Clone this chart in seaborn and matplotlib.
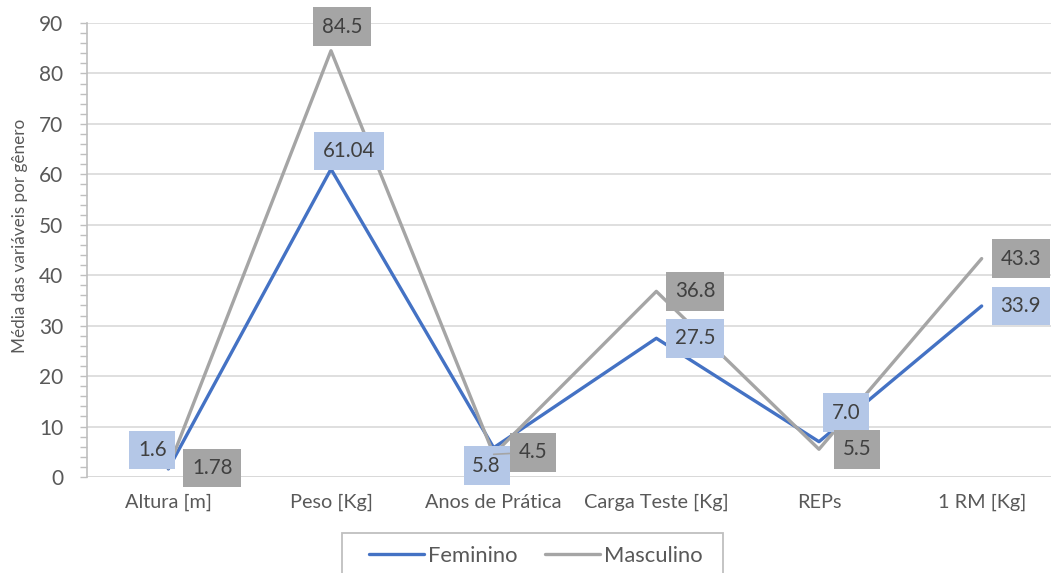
import matplotlib
matplotlib.use("Agg")
import matplotlib.pyplot as plt
from matplotlib.path import Path
from matplotlib.lines import Line2D
from matplotlib.patches import Rectangle
from matplotlib.ticker import MultipleLocator
import pandas as pd
import seaborn as sns

# ---- data -------------------------------------------------------------
categorias = ["Altura [m]", "Peso [Kg]", "Anos de Prática",
              "Carga Teste [Kg]", "REPs", "1 RM [Kg]"]
feminino = [1.6, 61.04, 5.8, 27.5, 7.0, 33.9]
masculino = [1.78, 84.5, 4.5, 36.8, 5.5, 43.3]
casas_fem = [1, 2, 1, 1, 1, 1]      # decimal places shown in each label
casas_masc = [2, 1, 1, 1, 1, 1]
series = ["Feminino", "Masculino"]
y_ticks = [0, 10, 20, 30, 40, 50, 60, 70, 80, 90]

# ---- styling ----------------------------------------------------------
cores = {"Feminino": "#4472C4", "Masculino": "#A5A5A5"}
cores_caixa = {"Feminino": "#B4C7E7", "Masculino": "#A5A5A5"}
texto = "#404040"
cinza_texto = "#595959"
grade = "#D9D9D9"

# label box centre offsets from each point, in pixels (x right, y up)
desloc_fem = [(-16, 19), (18, 18), (-7, -18), (39, 0), (27, 29), (39, 0)]
desloc_masc = [(44, 0), (11, 24), (39, 2), (39, 0), (38, 0), (39, 0)]
guia_masc = [False, False, True, False, False, False]

sns.set_theme(style="white")
plt.rcParams["font.family"] = ["Lato", "DejaVu Sans"]

df = pd.DataFrame({
    "pos": list(range(len(categorias))) * 2,
    "valor": feminino + masculino,
    "genero": ["Feminino"] * len(categorias) + ["Masculino"] * len(categorias),
})

W, H = 1051, 573
fig = plt.figure(figsize=(W / 100, H / 100), dpi=100)
ax = fig.add_axes([87 / W, 96 / H, 976 / W, 454 / H])

sns.lineplot(data=df, x="pos", y="valor", hue="genero", hue_order=series,
             palette=cores, linewidth=2.4, legend=False, ax=ax,
             errorbar=None, sort=False)

ax.set_xlim(-0.5, len(categorias) - 0.5)
ax.set_ylim(0, 90)
ax.set_xticks(range(len(categorias)))
ax.set_xticklabels(categorias)
ax.set_yticks(y_ticks)
ax.yaxis.set_minor_locator(MultipleLocator(2))
ax.set_xlabel("")
ax.set_ylabel("")

ax.grid(axis="y", color=grade, linewidth=1.2)
ax.set_axisbelow(True)
for s in ["top", "right", "bottom"]:
    ax.spines[s].set_visible(False)
ax.spines["left"].set_color("#BFBFBF")
ax.spines["left"].set_linewidth(1.2)
ax.axhline(0, color=grade, linewidth=1.4, zorder=1)

ax.tick_params(axis="y", which="both", direction="out", length=5,
               width=1.0, color="#BFBFBF", left=True)
ax.tick_params(axis="y", which="major", labelsize=15, labelcolor=cinza_texto, pad=12)
ax.tick_params(axis="x", length=0, labelsize=14.3, labelcolor=cinza_texto, pad=12)


def caixa_rotulo(x0, y0, width, height, mutation_size):
    px = 0.42 * mutation_size
    py = 0.45 * mutation_size
    verts = [(x0 - px, y0 - py), (x0 + width + px, y0 - py),
             (x0 + width + px, y0 + height + py), (x0 - px, y0 + height + py),
             (x0 - px, y0 - py)]
    return Path(verts, closed=True)


def rotular(valores, casas, desloc, serie, guias=None):
    for i, (v, c, (dx, dy)) in enumerate(zip(valores, casas, desloc)):
        arrow = None
        if guias is not None and guias[i]:
            arrow = dict(arrowstyle="-", color=cores[serie], lw=1.2,
                         shrinkA=0, shrinkB=0)
        ax.annotate(f"{v:.{c}f}", xy=(i, v), xytext=(dx, dy),
                    textcoords="offset pixels", ha="center", va="center",
                    fontsize=14.8, color=texto, zorder=5,
                    bbox=dict(boxstyle=caixa_rotulo, fc=cores_caixa[serie],
                              ec="none"),
                    arrowprops=arrow, annotation_clip=False)


rotular(feminino, casas_fem, desloc_fem, "Feminino")
rotular(masculino, casas_masc, desloc_masc, "Masculino", guia_masc)

fig.text(20 / W, 1 - 236 / H, "Média das variáveis por gênero",
         rotation=90, ha="center", va="center", fontsize=12.3, color=cinza_texto)

# legend: frame drawn separately so it runs off the bottom edge
fig.patches.append(Rectangle((342 / W, -0.05), (723 - 342) / W,
                             (573 - 533) / H + 0.05, transform=fig.transFigure,
                             fill=False, edgecolor="#BFBFBF", linewidth=1.3))
handles = [Line2D([], [], color=cores[s], linewidth=2.4) for s in series]
fig.legend(handles, series, loc="center", ncol=2, frameon=False,
           bbox_to_anchor=(536 / W, 1 - 556 / H), fontsize=15.8,
           labelcolor=cinza_texto, handlelength=2.5, handletextpad=0.2,
           columnspacing=1.25, borderpad=0, borderaxespad=0)

fig.savefig("out.png", dpi=100)
